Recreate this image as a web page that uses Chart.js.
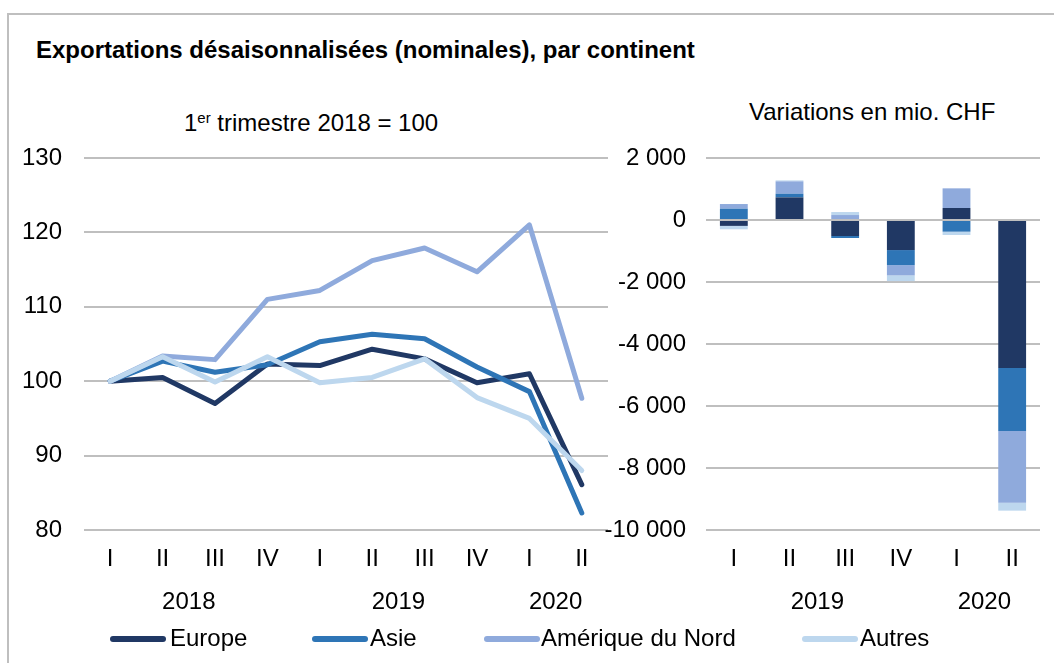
<!DOCTYPE html>
<html><head><meta charset="utf-8">
<script src="https://cdn.jsdelivr.net/npm/chart.js@4.4.1/dist/chart.umd.min.js"></script>
<style>
html,body{margin:0;padding:0;background:#fff;}
body{width:1054px;height:663px;position:relative;overflow:hidden;font-family:"Liberation Sans",Arial,sans-serif;color:#000;}
#frame{position:absolute;left:7px;top:13px;width:1100px;height:700px;border-top:2px solid #bfbfbf;border-left:2px solid #bfbfbf;}
.txt{position:absolute;white-space:nowrap;line-height:28px;font-size:24px;}
#title{left:36px;top:36px;font-weight:bold;}
#subL{left:184px;top:109px;}
#subL sup{font-size:15px;vertical-align:top;position:relative;top:-5px;}
#subR{left:749px;top:98px;}
#c1{position:absolute;left:0;top:0;}
#c2{position:absolute;left:596px;top:0;}
.leg{position:absolute;top:624px;height:28px;}
.leg .sw{position:absolute;top:12px;height:6px;border-radius:3px;}
.leg .lb{position:absolute;top:0;font-size:24px;line-height:28px;white-space:nowrap;}
</style></head>
<body>
<div id="frame"></div>
<div id="title" class="txt">Exportations désaisonnalisées (nominales), par continent</div>
<div id="subL" class="txt">1<sup>er</sup> trimestre 2018 = 100</div>
<div id="subR" class="txt">Variations en mio. CHF</div>
<canvas id="c1" width="610" height="663"></canvas>
<canvas id="c2" width="458" height="663"></canvas>
<div id="legend"></div>
<script>
// ---- data ----
const quartersLeft = ['I','II','III','IV','I','II','III','IV','I','II'];
const yearsLeft = ['2018','2018','2018','2018','2019','2019','2019','2019','2020','2020'];
const europeIdx = [100, 100.5, 97.0, 102.3, 102.1, 104.3, 103.0, 99.8, 101.0, 86.1];
const asieIdx = [100, 102.7, 101.2, 102.2, 105.3, 106.3, 105.7, 101.9, 98.6, 82.3];
const amNordIdx = [100, 103.4, 102.9, 111.0, 112.2, 116.2, 117.9, 114.7, 121.0, 97.7];
const autresIdx = [100, 103.3, 99.9, 103.3, 99.8, 100.5, 103.0, 97.8, 95.0, 88.0];

const quartersRight = ['I','II','III','IV','I','II'];
const yearsRight = ['2019','2019','2019','2019','2020','2020'];
const europeVar = [-190, 730, -516, -970, 387, -4774];
const asieVar = [365, 118, -65, -485, -376, -2032];
const amNordVar = [150, 400, 160, -333, 634, -2312];
const autresVar = [-110, 30, 97, -183, -108, -258];

const seriesNames = ['Europe','Asie','Amérique du Nord','Autres'];
const seriesColors = ['#203864','#2E75B6','#8FAADC','#BDD7EE'];

const FONT = '"Liberation Sans", Arial, sans-serif';
const GRID = '#bfbfbf';

const yearPlugin = {
  id: 'years',
  afterDraw(chart, args, opts) {
    const xs = chart.scales.x, ctx = chart.ctx, yrs = opts.years;
    ctx.save();
    ctx.font = '24px ' + FONT;
    ctx.fillStyle = '#000';
    ctx.textAlign = 'center';
    ctx.textBaseline = 'middle';
    let start = 0;
    for (let i = 1; i <= yrs.length; i++) {
      if (i === yrs.length || yrs[i] !== yrs[start]) {
        const x = (xs.getPixelForValue(start) + xs.getPixelForValue(i - 1)) / 2;
        ctx.fillText(yrs[start], x, opts.y);
        start = i;
      }
    }
    ctx.restore();
  }
};

function xAxis(height) {
  return {
    offset: true,
    grid: { display: false, drawTicks: false, offset: true },
    border: { display: false },
    ticks: { color: '#000', font: { size: 24, family: FONT }, padding: 15, maxRotation: 0, autoSkip: false },
    afterFit: s => { s.height = height; }
  };
}

// ---- left line chart ----
const idxData = [europeIdx, asieIdx, amNordIdx, autresIdx];
new Chart(document.getElementById('c1'), {
  type: 'line',
  data: {
    labels: quartersLeft,
    datasets: idxData.map((d, i) => ({
      label: seriesNames[i], data: d, borderColor: seriesColors[i], backgroundColor: seriesColors[i],
      borderWidth: 5, pointRadius: 0, tension: 0, borderCapStyle: 'round', borderJoinStyle: 'round',
      order: 4 - i
    }))
  },
  options: {
    responsive: false, animation: false,
    layout: { padding: { top: 158, left: 0, right: 2, bottom: 0 } },
    plugins: { legend: { display: false }, tooltip: { enabled: false }, years: { years: yearsLeft, y: 602 } },
    scales: {
      x: xAxis(133),
      y: {
        min: 80, max: 130,
        ticks: { stepSize: 10, color: '#000', font: { size: 24, family: FONT }, padding: 22 },
        grid: { color: GRID, lineWidth: 2, drawTicks: false },
        border: { display: false },
        afterFit: s => { s.width = 84; }
      }
    }
  },
  plugins: [yearPlugin]
});

// ---- right bar chart ----
const varData = [europeVar, asieVar, amNordVar, autresVar];
const fmt = v => (v < 0 ? '-' : '') + String(Math.abs(v)).replace(/\B(?=(\d{3})+(?!\d))/g, ' ');
new Chart(document.getElementById('c2'), {
  type: 'bar',
  data: {
    labels: quartersRight,
    datasets: varData.map((d, i) => ({
      label: seriesNames[i], data: d, backgroundColor: seriesColors[i], borderWidth: 0,
      barPercentage: 1, categoryPercentage: 0.5
    }))
  },
  options: {
    responsive: false, animation: false,
    layout: { padding: { top: 158, left: 0, right: 14, bottom: 0 } },
    plugins: { legend: { display: false }, tooltip: { enabled: false }, years: { years: yearsRight, y: 602 } },
    scales: {
      x: Object.assign(xAxis(133), { stacked: true }),
      y: {
        stacked: true, min: -10000, max: 2000,
        ticks: { stepSize: 2000, color: '#000', font: { size: 24, family: FONT }, padding: 20, callback: v => fmt(v) },
        grid: { color: GRID, lineWidth: 2, drawTicks: false },
        border: { display: false },
        afterFit: s => { s.width = 110; }
      }
    }
  },
  plugins: [yearPlugin]
});

// ---- legend ----
const legPos = [[110, 170], [312, 370], [484, 541], [802, 860]];
const leg = document.getElementById('legend');
seriesNames.forEach((n, i) => {
  const d = document.createElement('div');
  d.className = 'leg';
  d.style.left = legPos[i][0] + 'px';
  d.innerHTML = '<div class="sw" style="left:0;width:56px;background:' + seriesColors[i] + '"></div>' +
    '<div class="lb" style="left:' + (legPos[i][1] - legPos[i][0]) + 'px">' + n + '</div>';
  leg.appendChild(d);
});
</script>
</body></html>
